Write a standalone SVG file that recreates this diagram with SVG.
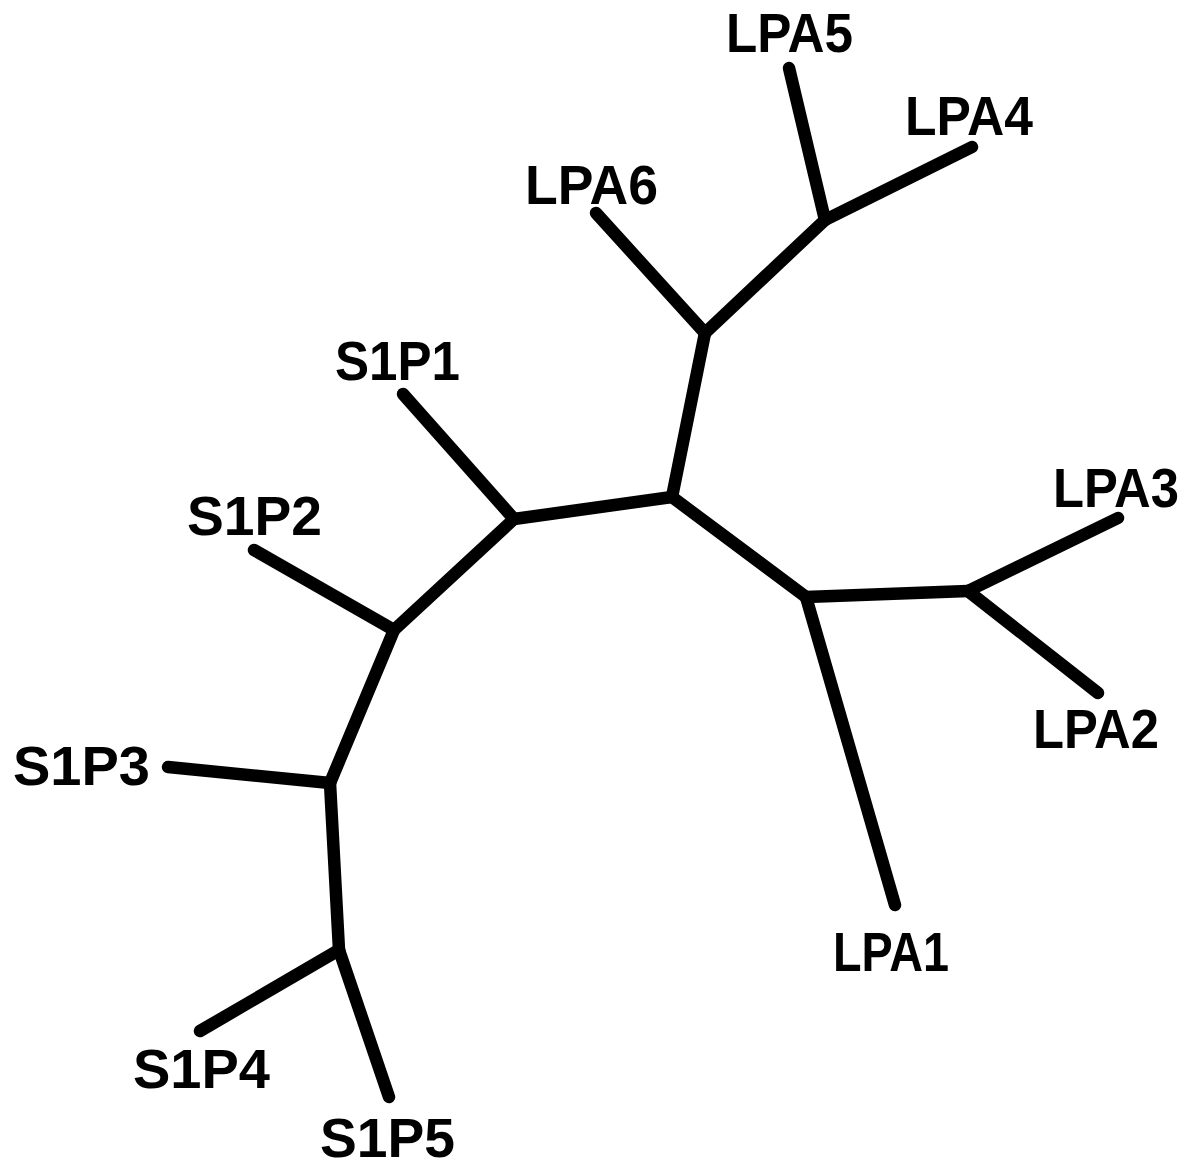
<svg xmlns="http://www.w3.org/2000/svg" width="1194" height="1167" viewBox="0 0 1194 1167">
<style>
.e{stroke:#000;stroke-width:12.5;stroke-linecap:round;fill:none}
.t{font-family:"Liberation Sans",Arial,sans-serif;font-weight:bold;font-size:56px;fill:#000}
</style>
<rect width="1194" height="1167" fill="#fff"/>
<g id="connectors">
<line class="e" x1="672" y1="497" x2="514" y2="519"/>
<line class="e" x1="672" y1="497" x2="705" y2="333"/>
<line class="e" x1="672" y1="497" x2="806" y2="597"/>
<line class="e" x1="514" y1="519" x2="403" y2="394"/>
<line class="e" x1="514" y1="519" x2="394" y2="630"/>
<line class="e" x1="394" y1="630" x2="254" y2="550"/>
<line class="e" x1="394" y1="630" x2="330" y2="783"/>
<line class="e" x1="330" y1="783" x2="168" y2="767"/>
<line class="e" x1="330" y1="783" x2="339" y2="950"/>
<line class="e" x1="339" y1="950" x2="200" y2="1031"/>
<line class="e" x1="339" y1="950" x2="389" y2="1097"/>
<line class="e" x1="705" y1="333" x2="596" y2="213"/>
<line class="e" x1="705" y1="333" x2="825" y2="220"/>
<line class="e" x1="825" y1="220" x2="789" y2="68"/>
<line class="e" x1="825" y1="220" x2="972" y2="147"/>
<line class="e" x1="806" y1="597" x2="895" y2="905"/>
<line class="e" x1="806" y1="597" x2="968" y2="591"/>
<line class="e" x1="968" y1="591" x2="1118" y2="518"/>
<line class="e" x1="968" y1="591" x2="1098" y2="693"/>
</g>
<g id="LPA5"><text class="t" x="726" y="52" textLength="127" lengthAdjust="spacingAndGlyphs">LPA5</text></g>
<g id="LPA4"><text class="t" x="905" y="135" textLength="128" lengthAdjust="spacingAndGlyphs">LPA4</text></g>
<g id="LPA6"><text class="t" x="525" y="204" textLength="133" lengthAdjust="spacingAndGlyphs">LPA6</text></g>
<g id="S1P1"><text class="t" x="335" y="380" textLength="125" lengthAdjust="spacingAndGlyphs">S1P1</text></g>
<g id="S1P2"><text class="t" x="187" y="535" textLength="135" lengthAdjust="spacingAndGlyphs">S1P2</text></g>
<g id="S1P3"><text class="t" x="13" y="785" textLength="137" lengthAdjust="spacingAndGlyphs">S1P3</text></g>
<g id="S1P4"><text class="t" x="133" y="1088" textLength="137" lengthAdjust="spacingAndGlyphs">S1P4</text></g>
<g id="S1P5"><text class="t" x="320" y="1157" textLength="135" lengthAdjust="spacingAndGlyphs">S1P5</text></g>
<g id="LPA1"><text class="t" x="833" y="971" textLength="116" lengthAdjust="spacingAndGlyphs">LPA1</text></g>
<g id="LPA3"><text class="t" x="1053" y="507" textLength="126" lengthAdjust="spacingAndGlyphs">LPA3</text></g>
<g id="LPA2"><text class="t" x="1033" y="748" textLength="126" lengthAdjust="spacingAndGlyphs">LPA2</text></g>
</svg>
